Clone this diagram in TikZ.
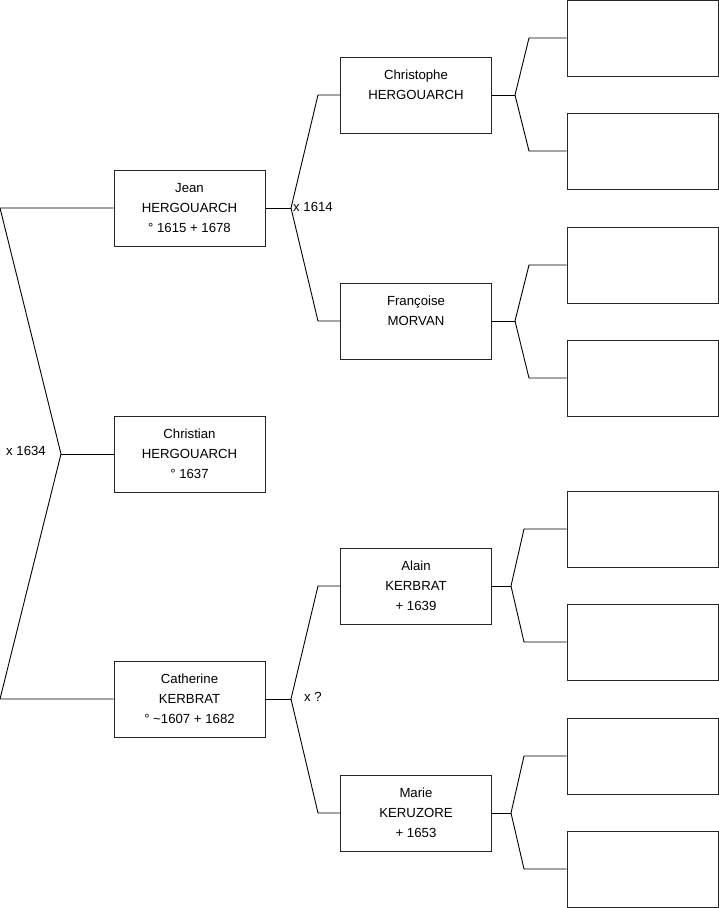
\documentclass[tikz,border=0pt]{standalone}
\usepackage{fontspec}
\setmainfont{Liberation Sans}
\begin{document}
\begin{tikzpicture}[x=1pt,y=-1pt,
  box/.style={draw=black!85, line width=1pt, minimum width=151pt, minimum height=76pt, inner sep=0pt, align=center, font=\fontsize{13.2}{20}\selectfont},
  link/.style={line width=0.9pt, black},
  lbl/.style={font=\fontsize{13.2}{15}\selectfont, inner sep=0pt, anchor=west}]
\useasboundingbox (0,0) rectangle (719,908);
% level 1
\node[box] (jean) at (189.5,208) {Jean\\HERGOUARCH\\° 1615 + 1678};
\node[box] (christian) at (189.5,454) {Christian\\HERGOUARCH\\° 1637};
\node[box] (catherine) at (189.5,699) {Catherine\\KERBRAT\\° \textasciitilde1607 + 1682};
% level 2
\node[box] (christophe) at (416,95) {Christophe\\HERGOUARCH\\\mbox{}};
\node[box] (francoise) at (416,321) {Françoise\\MORVAN\\\mbox{}};
\node[box] (alain) at (416,586) {Alain\\KERBRAT\\+ 1639};
\node[box] (marie) at (416,813) {Marie\\KERUZORE\\+ 1653};
% level 3
\node[box] (g1) at (642.5,38) {};
\node[box] (g2) at (642.5,151) {};
\node[box] (g3) at (642.5,265) {};
\node[box] (g4) at (642.5,378) {};
\node[box] (g5) at (642.5,529) {};
\node[box] (g6) at (642.5,642) {};
\node[box] (g7) at (642.5,756) {};
\node[box] (g8) at (642.5,869) {};
% junction coordinates
\coordinate (r1) at (0,208);
\coordinate (r2) at (0,699);
\coordinate (j0) at (61,454);
\coordinate (j1) at (291,208);
\coordinate (j1a) at (318,95);
\coordinate (j1b) at (318,321);
\coordinate (j2) at (291,699);
\coordinate (j2a) at (318,586);
\coordinate (j2b) at (318,813);
\coordinate (k1) at (515,95);
\coordinate (k1a) at (529,38);
\coordinate (k1b) at (529,151);
\coordinate (k2) at (515,321);
\coordinate (k2a) at (529,265);
\coordinate (k2b) at (529,378);
\coordinate (k3) at (511,586);
\coordinate (k3a) at (524,529);
\coordinate (k3b) at (524,642);
\coordinate (k4) at (511,813);
\coordinate (k4a) at (524,756);
\coordinate (k4b) at (524,869);
% connectors
\draw[link] (jean.west) -- (r1) -- (j0) -- (r2) -- (catherine.west);
\draw[link] (j0) -- (christian.west);
\draw[link] (jean.east) -- (j1);
\draw[link] (christophe.west) -- (j1a) -- (j1) -- (j1b) -- (francoise.west);
\draw[link] (catherine.east) -- (j2);
\draw[link] (alain.west) -- (j2a) -- (j2) -- (j2b) -- (marie.west);
\draw[link] (christophe.east) -- (k1);
\draw[link] (g1.west) -- (k1a) -- (k1) -- (k1b) -- (g2.west);
\draw[link] (francoise.east) -- (k2);
\draw[link] (g3.west) -- (k2a) -- (k2) -- (k2b) -- (g4.west);
\draw[link] (alain.east) -- (k3);
\draw[link] (g5.west) -- (k3a) -- (k3) -- (k3b) -- (g6.west);
\draw[link] (marie.east) -- (k4);
\draw[link] (g7.west) -- (k4a) -- (k4) -- (k4b) -- (g8.west);
% labels
\node[lbl] (l1) at (6,451) {x 1634};
\node[lbl] (l2) at (293,207) {x 1614};
\node[lbl] (l3) at (304,697) {x ?};
\end{tikzpicture}
\end{document}
